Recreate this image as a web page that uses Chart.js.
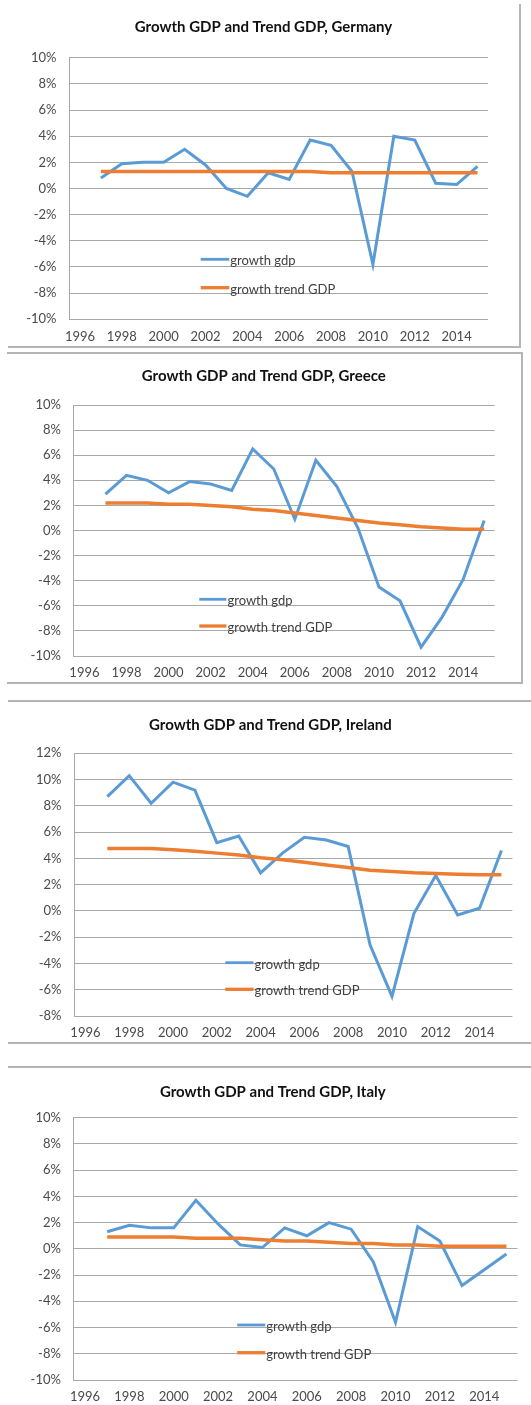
<!DOCTYPE html>
<html><head><meta charset="utf-8">
<script src="https://cdn.jsdelivr.net/npm/chart.js@4.4.1/dist/chart.umd.min.js"></script>
<style>
html,body{margin:0;padding:0;background:#fff;}
body{position:relative;width:531px;height:1405px;overflow:hidden;}
.pan{position:absolute;left:0;}
.ln{position:absolute;background:#b5b5b5;}
</style></head><body>
<div class="pan" style="top:0px"><canvas id="c1" width="531" height="350"></canvas></div>
<div class="pan" style="top:350px"><canvas id="c2" width="531" height="350"></canvas></div>
<div class="pan" style="top:700px"><canvas id="c3" width="531" height="350"></canvas></div>
<div class="pan" style="top:1050px"><canvas id="c4" width="531" height="355"></canvas></div>

<div class="ln" style="left:519px;top:4px;width:2px;height:343px"></div>
<div class="ln" style="left:8px;top:346px;width:513px;height:2px"></div>

<div class="ln" style="left:7px;top:352px;width:516px;height:2px"></div>
<div class="ln" style="left:521px;top:352px;width:2px;height:332px"></div>
<div class="ln" style="left:7px;top:682px;width:516px;height:2px"></div>

<div class="ln" style="left:8px;top:700px;width:523px;height:2px"></div>
<div class="ln" style="left:8px;top:1042px;width:523px;height:2px"></div>

<div class="ln" style="left:8px;top:1066px;width:523px;height:2px"></div>

<script>
const years = ['1996','1997','1998','1999','2000','2001','2002','2003','2004','2005','2006','2007','2008','2009','2010','2011','2012','2013','2014','2015'];

const deGdp   = [null, 0.8, 1.9, 2.0, 2.0, 3.0, 1.8, 0.0, -0.6, 1.2, 0.7, 3.7, 3.3, 1.3, -5.8, 4.0, 3.7, 0.4, 0.3, 1.7];
const deTrend = [null, 1.3, 1.3, 1.3, 1.3, 1.3, 1.3, 1.3, 1.3, 1.3, 1.3, 1.3, 1.2, 1.2, 1.2, 1.2, 1.2, 1.2, 1.2, 1.2];

const grGdp   = [null, 2.9, 4.4, 4.0, 3.0, 3.9, 3.7, 3.2, 6.5, 4.9, 0.9, 5.6, 3.5, 0.2, -4.5, -5.6, -9.3, -6.9, -3.9, 0.8];
const grTrend = [null, 2.2, 2.2, 2.2, 2.1, 2.1, 2.0, 1.9, 1.7, 1.6, 1.4, 1.2, 1.0, 0.8, 0.6, 0.45, 0.3, 0.2, 0.1, 0.1];

const ieGdp   = [null, 8.7, 10.3, 8.2, 9.8, 9.2, 5.2, 5.7, 2.9, 4.4, 5.6, 5.4, 4.9, -2.6, -6.5, -0.2, 2.7, -0.3, 0.2, 4.6];
const ieTrend = [null, 4.75, 4.75, 4.75, 4.65, 4.55, 4.4, 4.25, 4.05, 3.9, 3.7, 3.5, 3.3, 3.1, 3.0, 2.9, 2.85, 2.8, 2.75, 2.75];

const itGdp   = [null, 1.3, 1.8, 1.6, 1.6, 3.7, 1.9, 0.3, 0.1, 1.6, 1.0, 2.0, 1.5, -1.0, -5.6, 1.7, 0.6, -2.8, -1.6, -0.4];
const itTrend = [null, 0.9, 0.9, 0.9, 0.9, 0.8, 0.8, 0.8, 0.7, 0.6, 0.6, 0.5, 0.4, 0.4, 0.3, 0.3, 0.2, 0.2, 0.2, 0.2];

const titles = ['Growth GDP and Trend GDP, Germany','Growth GDP and Trend GDP, Greece','Growth GDP and Trend GDP, Ireland','Growth GDP and Trend GDP, Italy'];
const seriesNames = ['growth gdp','growth trend GDP'];

const BLUE = '#5B9BD5', ORANGE = '#ED7D31', GRID = '#a9a9a9', TICK = '#4a4a4a';

function makeChart(id, gdp, trend, title, ymin, ymax, L) {
  const el = document.getElementById(id);
  const W = el.width, H = el.height;
  const deco = {
    id: 'deco',
    afterDraw(chart) {
      const ctx = chart.ctx;
      ctx.save();
      ctx.font = 'bold 15px Lato';
      ctx.fillStyle = '#111';
      ctx.textAlign = 'center';
      ctx.textBaseline = 'middle';
      ctx.fillText(title, L.tx, L.ty);
      const rows = [[seriesNames[0], BLUE, 2.8, L.ly1], [seriesNames[1], ORANGE, 3.3, L.ly2]];
      rows.forEach(r => {
        ctx.strokeStyle = r[1];
        ctx.lineWidth = r[2];
        ctx.beginPath();
        ctx.moveTo(L.lx1, r[3]);
        ctx.lineTo(L.lx2, r[3]);
        ctx.stroke();
        ctx.font = '13px Lato';
        ctx.fillStyle = '#404040';
        ctx.textAlign = 'left';
        ctx.textBaseline = 'middle';
        ctx.fillText(r[0], L.lx2 + 1, r[3] + 2);
      });
      ctx.restore();
    }
  };
  return new Chart(el, {
    type: 'line',
    data: {
      labels: years,
      datasets: [
        {label: seriesNames[0], data: gdp, borderColor: BLUE, borderWidth: 3, pointRadius: 0, tension: 0, order: 1, spanGaps: false},
        {label: seriesNames[1], data: trend, borderColor: ORANGE, borderWidth: 3.5, pointRadius: 0, tension: 0, order: 0}
      ]
    },
    options: {
      responsive: false,
      animation: false,
      layout: {padding: {left: 0, top: L.top, right: W - L.right, bottom: 0}},
      plugins: {legend: {display: false}, title: {display: false}, tooltip: {enabled: false}},
      scales: {
        x: {
          type: 'category',
          offset: true,
          grid: {display: false, drawTicks: false},
          border: {display: false},
          ticks: {
            autoSkip: false, maxRotation: 0, minRotation: 0, padding: 9.5,
            color: TICK, font: {family: 'Lato', size: 13},
            callback: function(v, i) { return i % 2 === 0 ? this.getLabelForValue(v) : ''; }
          },
          afterFit(s) { s.height = H - L.bottom; }
        },
        y: {
          min: ymin, max: ymax,
          grid: {color: GRID, lineWidth: 1, drawTicks: false},
          border: {display: true, color: GRID, width: 1},
          ticks: {stepSize: 2, padding: 13, color: TICK, font: {family: 'Lato', size: 13},
            callback: v => v + '%'},
          afterFit(s) { s.width = L.left; }
        }
      }
    },
    plugins: [deco]
  });
}

makeChart('c1', deGdp, deTrend, titles[0], -10, 10,
  {left: 69.5, right: 488, top: 57.7, bottom: 319.3, tx: 263.5, ty: 27.5, lx1: 200.7, lx2: 229.3, ly1: 259.3, ly2: 287.7});
makeChart('c2', grGdp, grTrend, titles[1], -10, 10,
  {left: 73.9, right: 494.7, top: 55, bottom: 306, tx: 263.8, ty: 26, lx1: 199.3, lx2: 226.4, ly1: 249.3, ly2: 276});
makeChart('c3', ieGdp, ieTrend, titles[2], -8, 12,
  {left: 74.5, right: 512.4, top: 53.3, bottom: 316, tx: 270.4, ty: 25, lx1: 225.3, lx2: 253.5, ly1: 262.7, ly2: 289.3});
makeChart('c4', itGdp, itTrend, titles[3], -10, 10,
  {left: 73.9, right: 517.5, top: 67.7, bottom: 330, tx: 272.8, ty: 41.7, lx1: 237.2, lx2: 265.3, ly1: 275, ly2: 302.7});
</script>
</body></html>
